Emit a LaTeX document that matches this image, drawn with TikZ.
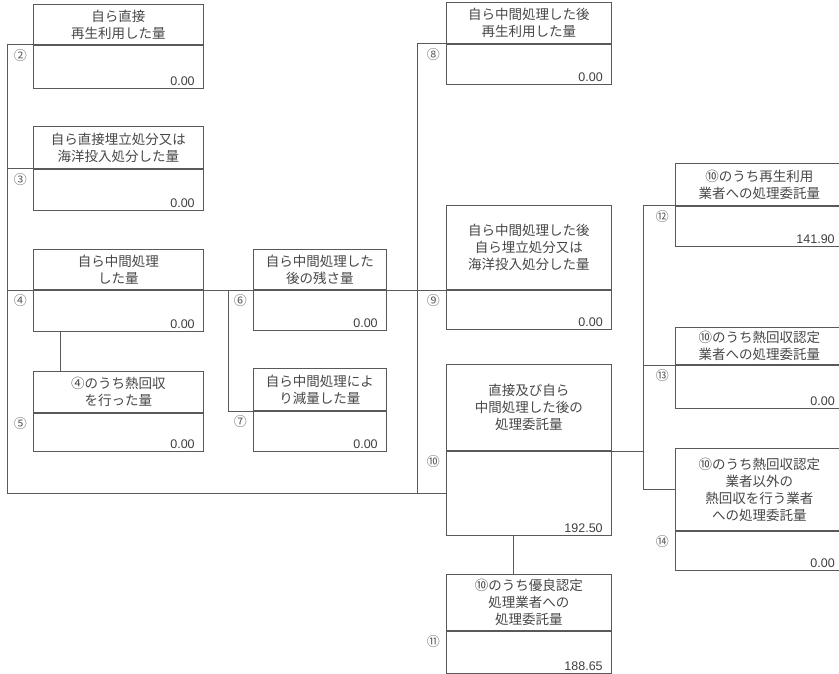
\documentclass[tikz,border=0pt]{standalone}
\usepackage{fontspec}
\setmainfont{Noto Sans CJK JP}
\newfontfamily\numfont{Liberation Sans}
\usetikzlibrary{positioning}

\begin{document}
\begin{tikzpicture}[x=1pt,y=-1pt,
  hbox/.style={draw=black!65,line width=.9pt,align=center,inner sep=0pt,text=black!72,font=\fontsize{13.5}{17}\selectfont},
  vbox/.style={draw=black!65,line width=.9pt,inner sep=0pt},
  valtext/.style={font=\numfont\fontsize{12.5}{14}\selectfont,text=black!75,inner sep=1pt},
  numtext/.style={font=\fontsize{13}{15}\selectfont,text=black!65,inner sep=0pt},
  link/.style={draw=black!65,line width=.8pt}]
  \useasboundingbox[fill=white] (0,0) rectangle (839,674);

  % boxes: id / left / width / top / divider / bottom / label / value / text
  \foreach \id/\bx/\bw/\ty/\dy/\by/\lab/\val/\txt in {
      2/33/170/4/44/87/②/0.00/{自ら直接\\再生利用した量},
      3/33/170/126/168/209/③/0.00/{自ら直接埋立処分又は\\海洋投入処分した量},
      4/33/170/249/289/330/④/0.00/{自ら中間処理\\した量},
      5/33/170/371/412/450/⑤/0.00/{④のうち熱回収\\を行った量},
      6/253/133/249/289/329/⑥/0.00/{自ら中間処理した\\後の残さ量},
      7/253/133/368/410/450/⑦/0.00/{自ら中間処理によ\\り減量した量},
      8/446/165/2/43/83/⑧/0.00/{自ら中間処理した後\\再生利用した量},
      9/446/165/205/289/328/⑨/0.00/{自ら中間処理した後\\自ら埋立処分又は\\海洋投入処分した量},
      10/446/165/364/450/534/⑩/192.50/{直接及び自ら\\中間処理した後の\\処理委託量},
      11/446/165/574/630/672/⑪/188.65/{⑩のうち優良認定\\処理業者への\\処理委託量},
      12/675/168/163/205/245/⑫/141.90/{⑩のうち再生利用\\業者への処理委託量},
      13/675/168/327/364/407/⑬/0.00/{⑩のうち熱回収認定\\業者への処理委託量},
      14/675/168/448/530/569/⑭/0.00/{⑩のうち熱回収認定\\業者以外の\\熱回収を行う業者\\への処理委託量}}{
    \node[hbox,minimum width=\bw pt,minimum height={(\dy-\ty)*1pt},anchor=north west] (h\id) at (\bx,\ty) {\txt};
    \node[vbox,minimum width=\bw pt,minimum height={(\by-\dy)*1pt},anchor=north west] (v\id) at (h\id.south west) {};
    \node[valtext,above left=2pt and 8pt of v\id.south east] (q\id) {\val};
    \node[numtext,below left=4pt and 6pt of v\id.north west] (c\id) {\lab};
  }

  \coordinate (trunkL) at (7,0);
  \coordinate (trunkS) at (228,0);
  \coordinate (trunkM) at (417,0);
  \coordinate (trunkR) at (643,0);

  \draw[link] (v2.north west) -| (trunkL |- v10.west) -- (v10.west);
  \draw[link] (v3.north west) -- (trunkL |- v3.north west);
  \draw[link] (v4.north west) -- (trunkL |- v4.north west);
  \draw[link] ([xshift=27pt]v4.south west) -- ([xshift=27pt]h5.north west);
  \draw[link] (v4.north east) -- (v6.north west);
  \draw[link] (trunkS |- v6.north west) |- (v7.north west);
  \draw[link] (v6.north east) -- (v9.north west);
  \draw[link] (v8.north west) -| (trunkM |- v10.west);
  \draw[link] ([xshift=67pt]v10.south west) -- ([xshift=67pt]h11.north west);
  \draw[link] (v12.north west) -| (trunkR |- h14.west) -- (h14.west);
  \draw[link] (v13.north west) -- (trunkR |- v13.north west);
  \draw[link] (v10.north east) -- (trunkR |- v10.north east);
\end{tikzpicture}
\end{document}
